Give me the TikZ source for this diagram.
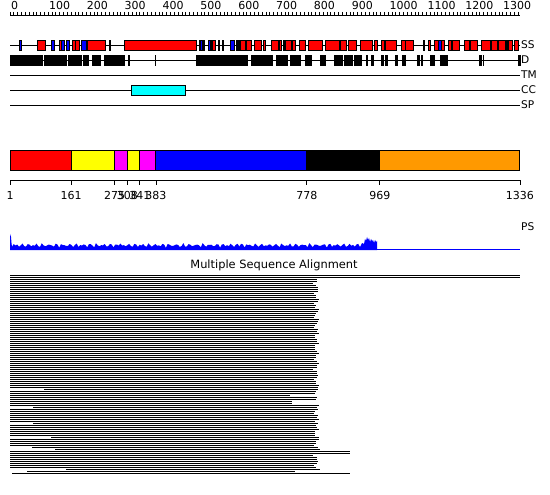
\documentclass[tikz,border=0pt]{standalone}
\usepackage{fontspec}
\setmainfont{DejaVu Sans}
\usepackage{tikz}
\definecolor{ssred}{RGB}{255,0,0}
\definecolor{ssblue}{RGB}{0,0,255}
\definecolor{domyellow}{RGB}{255,255,0}
\definecolor{dommagenta}{RGB}{255,0,255}
\definecolor{domorange}{RGB}{255,153,0}
\definecolor{cccyan}{RGB}{0,255,255}
\definecolor{psblue}{RGB}{0,0,255}
\tikzset{
  trackline/.style={line width=1pt, color=black},
  tickline/.style={line width=0.8pt, color=black},
  ssbox/.style={draw=black, fill=ssred, line width=0.8pt},
  helixbox/.style={draw=black, fill=ssblue, line width=0.8pt},
  disbox/.style={draw=black, fill=black, line width=0.6pt},
  dombox/.style={draw=black, line width=1pt},
  msarow/.style={line width=1pt, color=black},
  numlabel/.style={inner sep=0pt, font=\fontsize{11}{13}\selectfont},
  tracklabel/.style={anchor=base west, inner sep=0pt, font=\fontsize{10.6}{12}\selectfont}
}

\begin{document}
\begin{tikzpicture}[x=1pt, y=-1pt]
  \useasboundingbox (0,0) rectangle (550,495);
  % Residue ruler
  \draw[trackline] (10,15.5) -- (520,15.5);
  \foreach \r in {0,10,...,1330}
    \draw[tickline] ({10+0.382*\r},12) -- ({10+0.382*\r},15.5);
  \foreach \r in {0,100,...,1300}
    \node[numlabel, anchor=base west] (ruler\r) at ({11+0.3785*\r},10) {\r};

  % Feature tracks
  \foreach \y/\t in {45.5/SS, 60.5/D, 75.5/TM, 90.5/CC, 105.5/SP} {
    \draw[trackline] (10,\y) -- (520,\y);
    \node[tracklabel] (lab\t) at (521,{\y+3.5}) {\t};
  }
  % Secondary structure: strands
  \foreach \a/\b in {37.3/45.7, 59/61, 72/75.5, 75.5/79, 87.3/105.7, 109.3/110.7,
      124.3/196.5, 199/200, 203.5/204.5, 211/212, 212.3/215.3, 218/219, 222/223,
      236/237, 238.5/239.5, 240.7/245.7, 246.3/251.7, 254.3/261.7, 263.3/265.7,
      271.7/278.7, 279/281, 285.3/291.7, 292.7/295.3, 299/305.7, 308.7/322.7,
      325.7/339, 340.3/346, 348.3/356.7, 360.7/372.3, 374.7/377.3, 381/384,
      385.7/396, 401/405, 405.7/413.3, 423.5/424.5, 428/430.7, 434.3/438.3,
      441.7/444, 448.7/451.7, 452.3/459.3, 464/469, 470/477.3, 481.7/490.7,
      491/497.7, 498.7/505.7, 508.7/512.3, 514/518.3}
    \draw[ssbox] (\a,40.5) rectangle (\b,50);
  % Secondary structure: helices
  \foreach \a/\b in {19.3/21.7, 51.3/54, 61.7/64.3, 66.7/69.3, 81.7/86, 200.7/202,
      208.7/210, 230.3/234, 283/284.3, 438.7/441.3, 506/507.7}
    \draw[helixbox] (\a,40.5) rectangle (\b,50);
  % Disorder
  \foreach \a/\b in {10/42.7, 44/51.7, 52.7/66.7, 68/81.7, 83/84, 85.7/88.7,
      92.7/99, 100/100.7, 104/124.7, 128.3/129, 155/155.7, 196/214, 215.3/247.7,
      251/272.7, 276/287.7, 290/300.7, 305/311.3, 320.7/325.7, 334/342.7,
      344.7/351, 351.7/352.7, 354.3/361.7, 366/367.3, 371/373.3, 381.7/383.3,
      385/387.3, 395.7/397.3, 402.7/405.7, 417.3/419.3, 421.5/422, 430.7/434,
      440/447.3, 479/481, 483/483.7, 518/520.7}
    \draw[disbox] (\a,55.5) rectangle (\b,65.5);
  % Coiled coil
  \draw[dombox, fill=cccyan] (131.3,85.5) rectangle (185.3,95.5);

  % Domain bar
  \foreach \a/\b/\c in {1/161/ssred, 161/275/domyellow, 275/308/dommagenta,
      308/341/domyellow, 341/383/dommagenta, 383/778/ssblue, 778/969/black,
      969/1336/domorange}
    \draw[dombox, fill=\c] ({10+0.382*(\a-1)},150.5) rectangle ({10+0.382*(\b-1)},170.5);
  \draw[trackline] (10,180.5) -- (520,180.5);
  \foreach \r in {1,161,275,308,341,383,778,969,1336} {
    \draw[tickline] ({10+0.382*(\r-1)},180.5) -- ({10+0.382*(\r-1)},185.5);
    \node[numlabel, anchor=base] (dom\r) at ({10+0.382*(\r-1)},200) {\r};
  }

  % Profile
  \fill[psblue] (10,250) -- (10,234) -- (11,237) -- (11.5,243)
    -- plot[domain=12:360, samples=200]
       (\x,{245.3-1.2*sin(53*mod(\x,120))-0.9*sin(131*mod(\x,90)+40)-0.5*sin(297*mod(\x,40))})
    -- (362,243) -- (364,244) -- (365,239) -- (366,241) -- (367,237)
    -- (368,240) -- (369,238) -- (370,242) -- (371,239) -- (372,241)
    -- (373,240) -- (374,243) -- (375,240) -- (376,242) -- (377,241)
    -- (377,250) -- cycle;
  \draw[psblue, line width=1pt] (377,249.5) -- (520,249.5);
  \node[tracklabel] (labPS) at (521,230) {PS};

  % Alignment
  \node[numlabel, anchor=base, font=\fontsize{11.4}{13}\selectfont] (msa)
    at (274,269) {Multiple Sequence Alignment};
  \foreach \k in {0,1}
    \draw[msarow] (10,{275.5+2*\k}) -- (520,{275.5+2*\k});
  \foreach \lo/\hi in {2/56, 58/59, 61/62, 65/65, 67/73, 75/80, 82/85, 90/96}
    \foreach \k in {\lo,...,\hi} {
      \pgfmathsetmacro\e{316.5+2*sin(67*\k)+1.2*sin(151*\k)}
      \draw[msarow] (10,{275.5+2*\k}) -- (\e,{275.5+2*\k});
    }
  \foreach \k/\s/\e in {57/44/318, 60/10/290, 63/10/292, 64/10/292, 66/33/317,
      74/33/318, 81/51/319, 86/32/318, 87/55/320, 88/10/350, 89/10/350,
      97/66/320, 98/27/295, 99/12/350}
    \draw[msarow] (\s,{275.5+2*\k}) -- (\e,{275.5+2*\k});
\end{tikzpicture}
\end{document}
